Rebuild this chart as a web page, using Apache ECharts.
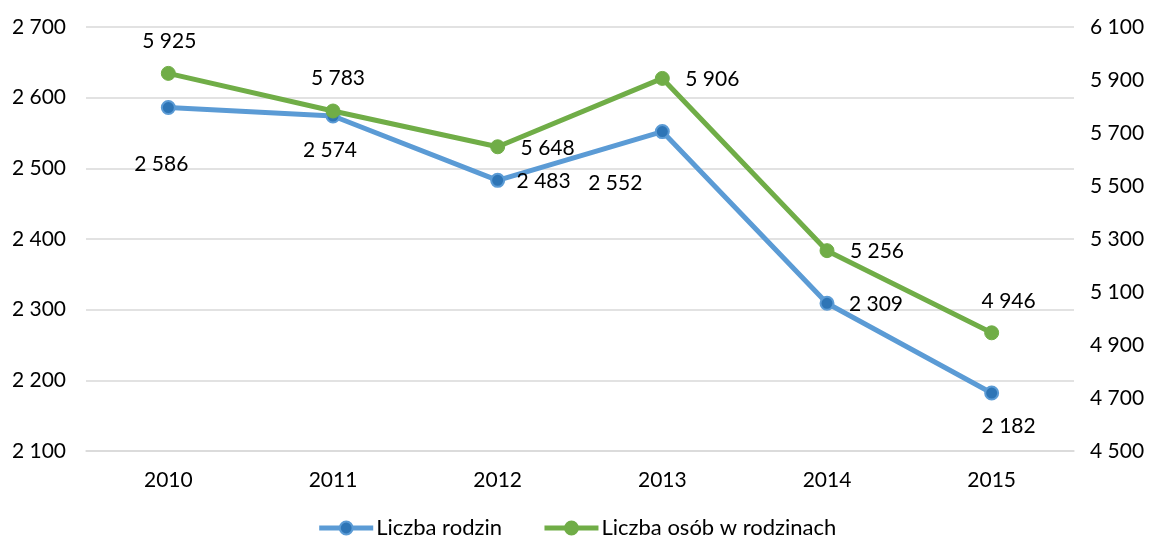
<!DOCTYPE html>
<html>
<head>
<meta charset="utf-8">
<script src="https://cdn.jsdelivr.net/npm/echarts@6/dist/echarts.min.js"></script>
<style>
  html,body{margin:0;padding:0;background:#fff;}
  #chart{width:1153px;height:537px;}
</style>
</head>
<body>
<div id="chart"></div>
<script>
  // dane
  var years = ['2010', '2011', '2012', '2013', '2014', '2015'];
  var rodziny = [2586, 2574, 2483, 2552, 2309, 2182];
  var osoby = [5925, 5783, 5648, 5906, 5256, 4946];
  var nazwy = ['Liczba rodzin', 'Liczba osób w rodzinach'];

  // przesuniecia etykiet (px od punktu)
  var offRodziny = [[-7, 57], [-3, 34], [46, 1], [-47, 52], [49, 1], [17, 33]];
  var offOsoby = [[1, -32], [5, -33], [50, 1], [50, 1], [50, 1], [17, -32]];

  function fmt(v) {
    return String(v).replace(/\B(?=(\d{3})+(?!\d))/g, ' ');
  }

  var font = 'Lato, "Open Sans", sans-serif';

  function build(vals, offs) {
    return vals.map(function (v, i) {
      return {value: v, label: {offset: offs[i]}};
    });
  }

  var chart = echarts.init(document.getElementById('chart'));
  var option = {
    animation: false,
    textStyle: {fontFamily: font},
    grid: {left: 86, right: 79, top: 27, bottom: 86, containLabel: false},
    legend: {
      data: nazwy.map(function (n) { return {name: n, lineStyle: {width: 5}}; }),
      bottom: -7,
      itemWidth: 54,
      itemHeight: 16,
      itemGap: 40,
      textStyle: {fontSize: 22, color: '#000', fontFamily: font, padding: [0, 0, 0, -2]}
    },
    xAxis: {
      type: 'category',
      data: years,
      axisLine: {show: true, lineStyle: {color: '#D9D9D9', width: 1.5}},
      axisTick: {show: false},
      axisLabel: {color: '#000', fontSize: 21, margin: 19, fontFamily: font}
    },
    yAxis: [{
      type: 'value',
      min: 2100, max: 2700, interval: 100,
      axisLine: {show: false},
      axisTick: {show: false},
      splitLine: {lineStyle: {color: '#D9D9D9', width: 1.5}},
      axisLabel: {color: '#000', fontSize: 21, margin: 20, formatter: fmt, fontFamily: font}
    }, {
      type: 'value',
      min: 4500, max: 6100, interval: 200,
      axisLine: {show: false},
      axisTick: {show: false},
      splitLine: {show: false},
      axisLabel: {color: '#000', fontSize: 21, margin: 16, formatter: fmt, fontFamily: font}
    }],
    series: [{
      name: nazwy[0],
      type: 'line',
      yAxisIndex: 0,
      data: build(rodziny, offRodziny),
      symbol: 'circle',
      symbolSize: 13,
      lineStyle: {color: '#5B9BD5', width: 5},
      itemStyle: {color: '#2E75B6', borderColor: '#5B9BD5', borderWidth: 2},
      label: {
        show: true, position: 'inside', color: '#000', fontSize: 21,
        align: 'center', verticalAlign: 'middle', fontFamily: font,
        formatter: function (p) { return fmt(p.value); }
      },
      z: 2
    }, {
      name: nazwy[1],
      type: 'line',
      yAxisIndex: 1,
      data: build(osoby, offOsoby),
      symbol: 'circle',
      symbolSize: 14,
      lineStyle: {color: '#70AD47', width: 5},
      itemStyle: {color: '#70AD47', borderColor: '#70AD47', borderWidth: 1},
      label: {
        show: true, position: 'inside', color: '#000', fontSize: 21,
        align: 'center', verticalAlign: 'middle', fontFamily: font,
        formatter: function (p) { return fmt(p.value); }
      },
      z: 3
    }]
  };
  chart.setOption(option);
</script>
</body>
</html>
